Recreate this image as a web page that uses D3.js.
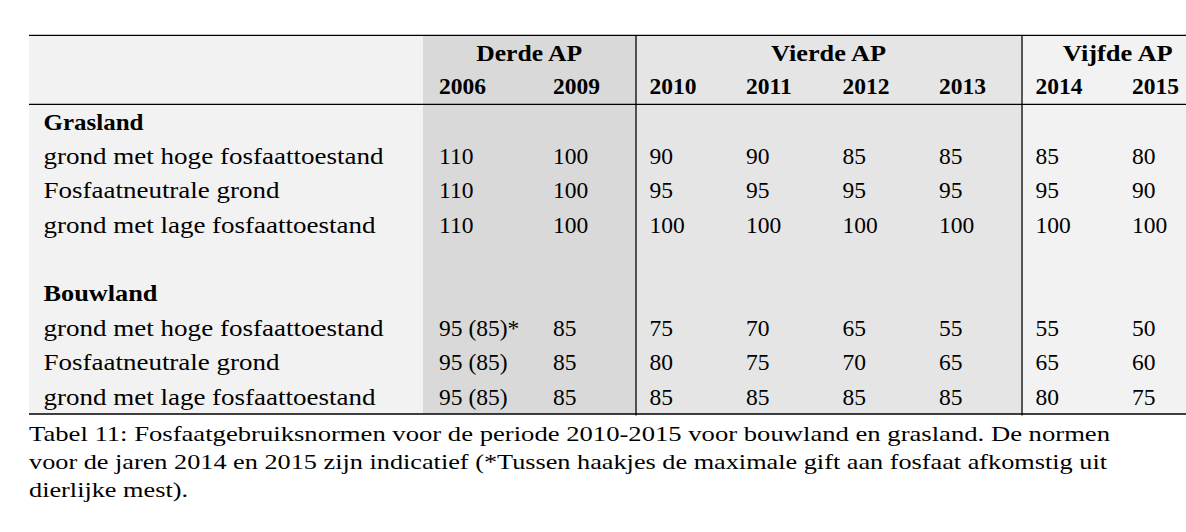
<!DOCTYPE html>
<html>
<head>
<meta charset="utf-8">
<script src="https://cdn.jsdelivr.net/npm/d3@7"></script>
<style>
  html, body { margin: 0; padding: 0; background: #ffffff; }
  svg { display: block; }
  text { font-family: "Liberation Serif", "Times New Roman", serif; fill: #000; }
</style>
</head>
<body>
<svg id="chart" width="1186" height="532"></svg>
<script>
// ---------- data ----------
const periods = ["Derde AP", "Vierde AP", "Vijfde AP"];
const years = ["2006", "2009", "2010", "2011", "2012", "2013", "2014", "2015"];
const yearPeriod = [0, 0, 1, 1, 1, 1, 2, 2];
const sections = ["Grasland", "Bouwland"];
const rowLabels = ["grond met hoge fosfaattoestand", "Fosfaatneutrale grond", "grond met lage fosfaattoestand"];
const graslandValues = [
  ["110", "100", "90", "90", "85", "85", "85", "80"],
  ["110", "100", "95", "95", "95", "95", "95", "90"],
  ["110", "100", "100", "100", "100", "100", "100", "100"]
];
const bouwlandValues = [
  ["95 (85)*", "85", "75", "70", "65", "55", "55", "50"],
  ["95 (85)", "85", "80", "75", "70", "65", "65", "60"],
  ["95 (85)", "85", "85", "85", "85", "85", "80", "75"]
];
const captionLines = [
  "Tabel 11: Fosfaatgebruiksnormen voor de periode 2010-2015 voor bouwland en grasland. De normen",
  "voor de jaren 2014 en 2015 zijn indicatief (*Tussen haakjes de maximale gift aan fosfaat afkomstig uit",
  "dierlijke mest)."
];

// ---------- layout ----------
const svg = d3.select("#chart");
const tableLeft = 29, tableRight = 1214;
const yTop = 35.3, yHead = 104.3, yBottom = 414;
const periodColors = ["#d9d9d9", "#e5e5e5", "#f2f2f2"];
const labelColor = "#f2f2f2";
const bodySize = 23.5, capSize = 22;

// column scale: uniform bands for 2009..2015, 2006 wider band before it
const xb = d3.scaleBand().domain(years.slice(1)).range([539, 539 + 7 * 96.5]);
const firstColWidth = 116;
const colX = y => y === years[0] ? xb(years[1]) - firstColWidth : xb(y);
const colW = y => y === years[0] ? firstColWidth : xb.bandwidth();
const cellPad = 15;

// row baselines (9 body rows incl. blank spacer)
const yRow = d3.scaleLinear().domain([0, 8]).range([129.5, 404.5]);

// period extents
const periodExt = periods.map((p, i) => {
  const ys = years.filter((y, j) => yearPeriod[j] === i);
  const x0 = colX(ys[0]);
  const x1 = i === periods.length - 1 ? tableRight : colX(ys[ys.length - 1]) + colW(ys[ys.length - 1]);
  return { name: p, x0, x1 };
});

// ---------- backgrounds ----------
svg.append("rect").attr("x", tableLeft).attr("y", yTop)
  .attr("width", periodExt[0].x0 - tableLeft).attr("height", yBottom - yTop)
  .attr("fill", labelColor);
svg.selectAll("rect.period").data(periodExt).join("rect")
  .attr("class", "period")
  .attr("x", d => d.x0).attr("y", yTop)
  .attr("width", d => d.x1 - d.x0).attr("height", yBottom - yTop)
  .attr("fill", (d, i) => periodColors[i]);

// ---------- text fit helper ----------
function fitWidth(sel, w) {
  sel.attr("textLength", w).attr("lengthAdjust", "spacingAndGlyphs");
}

// ---------- header ----------
const headerWidths = [106, 115, 110];
svg.selectAll("text.period").data(periodExt).join("text")
  .attr("class", "period")
  .attr("x", d => (d.x0 + d.x1) / 2).attr("y", 61.3)
  .attr("text-anchor", "middle")
  .attr("font-weight", "bold").attr("font-size", bodySize)
  .text(d => d.name)
  .each(function (d, i) { fitWidth(d3.select(this), headerWidths[i]); });

svg.selectAll("text.year").data(years).join("text")
  .attr("class", "year")
  .attr("x", d => colX(d) + cellPad - (d === years[0] ? -1 : 1))
  .attr("y", 94.3)
  .attr("font-weight", "bold").attr("font-size", bodySize)
  .text(d => d);

// ---------- body ----------
const rows = [];
sections.forEach((s, si) => {
  const base = si * 5;
  rows.push({ r: base, label: s, bold: true, values: null, w: si === 0 ? 100 : 114 });
  const vals = si === 0 ? graslandValues : bouwlandValues;
  const widths = [340, 236, 332];
  rowLabels.forEach((l, li) => rows.push({ r: base + 1 + li, label: l, bold: false, values: vals[li], w: widths[li] }));
});

svg.selectAll("text.rowlabel").data(rows).join("text")
  .attr("class", "rowlabel")
  .attr("x", 43.5).attr("y", d => yRow(d.r))
  .attr("font-size", bodySize)
  .attr("font-weight", d => d.bold ? "bold" : "normal")
  .text(d => d.label)
  .each(function (d) { fitWidth(d3.select(this), d.w); });

const cells = [];
rows.filter(d => d.values).forEach(d => d.values.forEach((v, j) => cells.push({ r: d.r, year: years[j], v })));
svg.selectAll("text.cell").data(cells).join("text")
  .attr("class", "cell")
  .attr("x", d => colX(d.year) + cellPad - (d.year === years[0] ? -1 : 1))
  .attr("y", d => yRow(d.r))
  .attr("font-size", bodySize)
  .text(d => d.v);

// ---------- rules ----------
const hLines = [yTop, yHead, yBottom];
svg.selectAll("line.h").data(hLines).join("line")
  .attr("class", "h")
  .attr("x1", tableLeft).attr("x2", tableRight)
  .attr("y1", d => d).attr("y2", d => d)
  .attr("stroke", "#000").attr("stroke-width", 1.3);
svg.selectAll("line.v").data(periodExt.slice(1)).join("line")
  .attr("class", "v")
  .attr("x1", d => d.x0 + 0.5).attr("x2", d => d.x0 + 0.5)
  .attr("y1", yTop).attr("y2", yBottom + 1.5)
  .attr("stroke", "#000").attr("stroke-width", 1.3);

// ---------- caption ----------
const capWidths = [1081, 1078, 159];
const yCap = d3.scaleLinear().domain([0, 2]).range([440.7, 497.3]);
svg.selectAll("text.caption").data(captionLines).join("text")
  .attr("class", "caption")
  .attr("x", 29).attr("y", (d, i) => yCap(i))
  .attr("font-size", capSize)
  .text(d => d)
  .each(function (d, i) { fitWidth(d3.select(this), capWidths[i]); });
</script>
</body>
</html>
